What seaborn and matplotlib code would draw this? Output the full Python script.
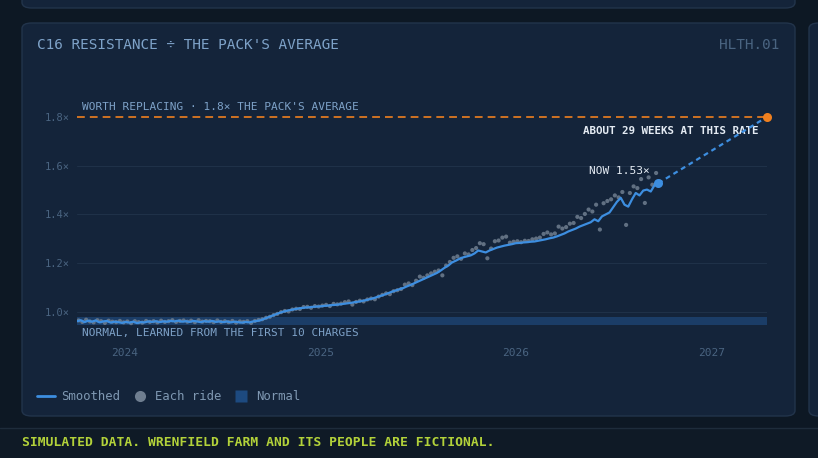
import matplotlib
matplotlib.use('Agg')
import matplotlib.pyplot as plt
import matplotlib.dates as mdates
from matplotlib.patches import FancyBboxPatch, Rectangle
from matplotlib.lines import Line2D
import numpy as np
import pandas as pd
import seaborn as sns

# smoothed resistance ratio, one value per week
smooth = [0.962, 0.966, 0.958, 0.964, 0.960, 0.965, 0.957, 0.961, 0.963, 0.956, 0.960, 0.958, 0.955,
          0.959, 0.956, 0.960, 0.954, 0.958, 0.957, 0.961, 0.959, 0.962, 0.958, 0.961, 0.960, 0.963,
          0.961, 0.964, 0.960, 0.962, 0.959, 0.963, 0.961, 0.958, 0.962, 0.960, 0.963, 0.959, 0.961,
          0.958, 0.961, 0.957, 0.960, 0.958, 0.956, 0.959, 0.957, 0.961, 0.963,
          0.966, 0.972, 0.978, 0.984, 0.990, 0.996, 1.001, 1.005, 1.008, 1.011, 1.014, 1.016,
          1.018, 1.019, 1.021, 1.022, 1.023, 1.025, 1.026, 1.028, 1.029, 1.031, 1.033, 1.035,
          1.037, 1.040, 1.042, 1.045, 1.048, 1.052, 1.056, 1.061, 1.066, 1.071, 1.077, 1.083,
          1.088, 1.093, 1.098, 1.105, 1.111, 1.118, 1.125, 1.132, 1.139, 1.146, 1.153, 1.160,
          1.170, 1.181, 1.190, 1.203, 1.210, 1.218, 1.224, 1.228, 1.232, 1.240, 1.252, 1.248,
          1.244, 1.252, 1.258, 1.264, 1.268, 1.272, 1.275, 1.278, 1.282, 1.283, 1.285, 1.286,
          1.288, 1.289, 1.292, 1.295, 1.298, 1.302, 1.305, 1.310, 1.316, 1.322, 1.330, 1.336,
          1.342, 1.350, 1.356, 1.362, 1.368, 1.380, 1.372, 1.392, 1.400, 1.408, 1.430, 1.452,
          1.468, 1.440, 1.432, 1.462, 1.488, 1.478, 1.498, 1.502, 1.494, 1.520, 1.528]

# each ride (one shown per week)
rides = [0.965, 0.959, 0.968, 0.961, 0.957, 0.966, 0.962, 0.955, 0.964, 0.960, 0.958, 0.963, 0.957,
         0.961, 0.954, 0.962, 0.958, 0.956, 0.963, 0.959, 0.962, 0.957, 0.964, 0.959, 0.962, 0.966,
         0.959, 0.963, 0.965, 0.960, 0.964, 0.958, 0.966, 0.960, 0.963, 0.962, 0.958, 0.965, 0.959,
         0.962, 0.958, 0.963, 0.956, 0.961, 0.959, 0.962, 0.955, 0.963, 0.967,
         0.970, 0.976, 0.980, 0.987, 0.992, 0.999, 1.004, 1.002, 1.010, 1.013, 1.012, 1.020,
         1.021, 1.017, 1.024, 1.022, 1.026, 1.029, 1.024, 1.033, 1.031, 1.034, 1.040, 1.043, 1.030, 1.041, 1.046,
         1.043, 1.051, 1.055, 1.052, 1.063, 1.070, 1.076, 1.073, 1.085, 1.089, 1.094, 1.112,
         1.117, 1.110, 1.128, 1.145, 1.140, 1.150, 1.158, 1.165, 1.170, 1.150, 1.190, 1.205,
         1.222, 1.228, 1.218, 1.240, 1.236, 1.254, 1.262, 1.282, 1.278, 1.220, 1.260, 1.290, 1.293,
         1.305, 1.309, 1.284, 1.288, 1.290, 1.286, 1.292, 1.291, 1.298, 1.301, 1.305, 1.320, 1.326,
         1.318, 1.322, 1.350, 1.342, 1.348, 1.362, 1.365, 1.390, 1.385, 1.402, 1.420, 1.412,
         1.440, 1.338, 1.446, 1.455, 1.462, 1.478, 1.470, 1.492, 1.357, 1.488, 1.515, 1.508,
         1.545, 1.447, 1.552, 1.522, 1.570, 1.535]

first_week = '2023-10-05'
weeks_left = 29
threshold = 1.8
normal_band = (0.947, 0.979)
now_label = 'NOW 1.53×'
yticks = [1.0, 1.2, 1.4, 1.6, 1.8]

# colours
BG = '#0d1824'
CARD = '#14243a'
CARD_EDGE = '#22344b'
BLUE = '#3d8ee0'
ORANGE = '#f0801f'
GREY = '#6f7e90'
BAND = '#1b3d67'
MUTED = '#7ea2c8'
DIM = '#4a6481'
WHITE = '#e4ebf3'
LIME = '#b3d23a'

df = pd.DataFrame({'date': pd.date_range(first_week, periods=len(smooth), freq='7D'),
                   'smooth': smooth})
df_rides = pd.DataFrame({'date': pd.date_range(first_week, periods=len(rides), freq='7D') + pd.Timedelta(days=3),
                         'ride': rides})
now_date = df['date'].iloc[-1]
now_val = df['smooth'].iloc[-1]
end_date = now_date + pd.Timedelta(weeks=weeks_left)

sns.set_theme(style='dark')
plt.rcParams['font.family'] = ['DejaVu Sans Mono', 'DejaVu Sans']

fig = plt.figure(figsize=(8.18, 4.58), dpi=100)
fig.patch.set_facecolor(BG)
W, H = 818, 458


def card(x0, y0, x1, y1):
    # rounded panel in pixel coords (top-left origin)
    p = FancyBboxPatch((x0 / W, 1 - y1 / H), (x1 - x0) / W, (y1 - y0) / H,
                       boxstyle='round,pad=0,rounding_size=0.012',
                       transform=fig.transFigure, facecolor=CARD, edgecolor=CARD_EDGE,
                       linewidth=1, zorder=-2)
    fig.patches.append(p)


card(22, -30, 795, 8)
card(22, 23, 795, 416)
card(809, 23, 860, 416)

# footer bar
fig.patches.append(Rectangle((0, 0), 1, 1 - 428 / H, transform=fig.transFigure,
                             facecolor='#0f1a26', edgecolor='none', zorder=-2))
fig.add_artist(Line2D([0, 1], [1 - 428 / H] * 2, transform=fig.transFigure, color='#1e2c3b', lw=1, zorder=-1))

ax = fig.add_axes([77 / W, 1 - 338 / H, 690 / W, 243 / H])
ax.set_facecolor('none')
ax.set_zorder(2)

ax.axhspan(normal_band[0], normal_band[1], color=BAND, lw=0, zorder=1)
for yv in yticks[:-1]:
    ax.axhline(yv, color='#1f3148', lw=0.8, zorder=0)
ax.axhline(threshold, color=ORANGE, lw=1.4, ls=(0, (4, 2.6)), alpha=0.85, zorder=2)

sns.scatterplot(data=df_rides, x='date', y='ride', ax=ax, color=GREY, s=9, alpha=0.85,
                edgecolor='none', zorder=3, legend=False)
sns.lineplot(data=df, x='date', y='smooth', ax=ax, color=BLUE, lw=1.6, zorder=4)

# projection to the threshold
ax.plot([now_date, end_date], [now_val, threshold], color=BLUE, lw=1.6, ls=(0, (2.2, 1.8)), zorder=4)
ax.plot([now_date], [now_val], 'o', color=BLUE, ms=6.5, mec='none', zorder=5)
ax.plot([end_date], [threshold], 'o', color=ORANGE, ms=6.5, mec='none', zorder=5, clip_on=False)

ax.set_xlim(df['date'].iloc[0], end_date)
ax.set_ylim(0.893, 1.89)
ax.set_yticks(yticks)
ax.set_yticklabels([f'{v:.1f}×' for v in yticks])
ax.xaxis.set_major_locator(mdates.YearLocator())
ax.xaxis.set_major_formatter(mdates.DateFormatter('%Y'))
ax.tick_params(axis='y', length=0, pad=5.5, labelsize=7.5, labelcolor=DIM)
ax.tick_params(axis='x', length=0, pad=7.5, labelsize=8, labelcolor=DIM)
ax.set_xlabel('')
ax.set_ylabel('')
ax.grid(False)
for s in ax.spines.values():
    s.set_visible(False)

# annotations
ax.annotate("WORTH REPLACING · 1.8× THE PACK'S AVERAGE", (df['date'].iloc[0], threshold),
            xytext=(3.5, 3.5), textcoords='offset points', fontsize=8, color=MUTED, va='bottom')
ax.annotate('ABOUT 29 WEEKS AT THIS RATE', (end_date, threshold), xytext=(-6, -6.5),
            textcoords='offset points', fontsize=7.8, color=WHITE, ha='right', va='top', fontweight='bold')
ax.annotate(now_label, (now_date, now_val), xytext=(-6, 5.5), textcoords='offset points',
            fontsize=8, color=WHITE, ha='right', va='bottom')
ax.annotate('NORMAL, LEARNED FROM THE FIRST 10 CHARGES', (df['date'].iloc[0], normal_band[0]),
            xytext=(3.5, -2), textcoords='offset points', fontsize=8, color=MUTED, va='top')

# titles
fig.text(37 / W, 1 - 45 / H, "C16 RESISTANCE ÷ THE PACK'S AVERAGE", fontsize=10.4, color=MUTED, va='center')
fig.text(779 / W, 1 - 45 / H, 'HLTH.01', fontsize=10.4, color=DIM, va='center', ha='right')

handles = [Line2D([], [], color=BLUE, lw=2),
           Line2D([], [], marker='o', ls='none', color=GREY, ms=8, mec='none'),
           Line2D([], [], marker='s', ls='none', color='#1d4a80', ms=9, mec='none')]
fig.legend(handles, ['Smoothed', 'Each ride', 'Normal'], loc='center left',
           bbox_to_anchor=(37 / W, 1 - 397 / H), ncol=3, frameon=False, fontsize=8.8,
           labelcolor='#7f98b2', handlelength=1.5, handletextpad=0.45, columnspacing=0.9,
           borderpad=0, borderaxespad=0)

fig.text(22 / W, 1 - 443 / H, 'SIMULATED DATA. WRENFIELD FARM AND ITS PEOPLE ARE FICTIONAL.',
         fontsize=9.4, color=LIME, fontweight='bold', va='center')

fig.savefig('out.png', dpi=100, facecolor=BG)
